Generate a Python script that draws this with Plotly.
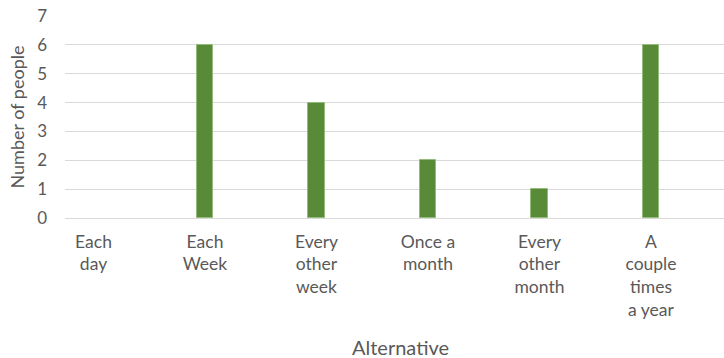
import plotly.graph_objects as go

# Survey answers: how often each respondent does the activity
categories = [
    "Each<br>day",
    "Each<br>Week",
    "Every<br>other<br>week",
    "Once a<br>month",
    "Every<br>other<br>month",
    "A<br>couple<br>times<br>a year",
]
people = [0, 6, 4, 2, 1, 6]
y_ticks = [0, 1, 2, 3, 4, 5, 6, 7]

FONT = "Lato, 'Open Sans', sans-serif"
TEXT = "#595959"
GRID = "#D9D9D9"

fig = go.Figure(
    go.Bar(
        x=list(range(len(categories))),
        y=people,
        width=0.145,
        marker=dict(
            color="#588A37",
            line=dict(color="#93BC7A", width=[0 if v == 0 else 1 for v in people]),
        ),
        hoverinfo="y",
    )
)

fig.update_layout(
    width=724,
    height=358,
    margin=dict(l=65, r=0, t=16, b=139.5),
    paper_bgcolor="white",
    plot_bgcolor="white",
    showlegend=False,
    font=dict(family=FONT, color=TEXT, size=17),
    bargap=0,
)

fig.update_xaxes(
    tickmode="array",
    tickvals=list(range(len(categories))),
    ticktext=categories,
    range=[-0.2556, 5.655],
    showgrid=False,
    zeroline=False,
    showline=False,
    ticks="",
    ticklabelstandoff=11,
    tickfont=dict(size=17.5, color=TEXT),
)

fig.update_yaxes(
    range=[0, 7],
    tickvals=y_ticks,
    showgrid=True,
    gridcolor=GRID,
    gridwidth=1,
    zeroline=True,
    zerolinecolor=GRID,
    zerolinewidth=1,
    showline=False,
    ticks="",
    ticklabelstandoff=17,
    tickfont=dict(size=17, color=TEXT),
    title=dict(text="Number of people", font=dict(size=18, color=TEXT), standoff=7),
)

# x-axis title placed under the category labels
fig.add_annotation(
    text="Alternative",
    xref="paper", yref="paper",
    x=(400 - 65) / 659, y=0,
    xanchor="center", yanchor="middle",
    yshift=-128.5,
    showarrow=False,
    font=dict(size=20, color=TEXT, family=FONT),
)

fig.write_html("out.html")
